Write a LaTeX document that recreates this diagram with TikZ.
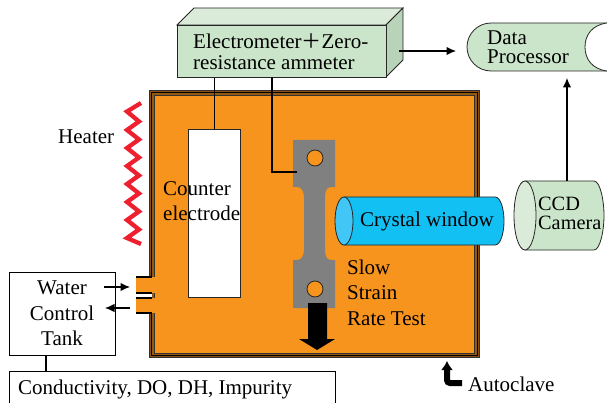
\documentclass[tikz,border=0pt]{standalone}
\usepackage{fontspec}
\setmainfont{Liberation Serif}
\newfontfamily\cjk{Noto Sans CJK SC}
\usetikzlibrary{arrows.meta,positioning,calc}
\definecolor{vesselorange}{HTML}{F7941D}
\definecolor{vesselbrown}{HTML}{8A4E12}
\definecolor{boxgreen}{HTML}{CBE5CA}
\definecolor{boxlight}{HTML}{DAEBD9}
\definecolor{boxside}{HTML}{B9D3B9}
\definecolor{windowblue}{HTML}{13C0F3}
\definecolor{windowlight}{HTML}{42C6F6}
\definecolor{heaterred}{HTML}{EE2030}
\definecolor{specgray}{HTML}{808080}
\tikzset{
    lab/.style={font=\fontsize{21}{#1}\selectfont,inner sep=0pt,align=left,anchor=west},
    lab/.default=20,
    flow/.style={-{Latex[length=9.5pt,width=8.5pt]},line width=1.2pt},
    wire/.style={line width=1.1pt},
    outline/.style={draw=black!85,line width=0.8pt}
}
\begin{document}
\begin{tikzpicture}[x=1pt,y=-1pt]
    \useasboundingbox (0,0) rectangle (607,403);
    % autoclave
    \fill[vesselorange] (149,90) rectangle (480,358);
    \draw[black!80,line width=0.8pt,fill=vesselbrown] (149.5,90.5) rectangle (479.5,357.5);
    \draw[black,line width=0.7pt,fill=vesselorange!60!black] (151.5,92.5) rectangle (477,355.5);
    \draw[black!80,line width=0.5pt,fill=vesselorange] (154,95.5) rectangle (474.5,353);
    % ports
    \fill[white] (136,293) rectangle (152,298);
    \fill[vesselorange] (136,277) rectangle (155,293);
    \fill[vesselorange] (136,298) rectangle (155,313);
    \foreach \y in {277,293,298,313}
        \draw[line width=1.3pt] (136,\y) -- (152,\y);
    % heater
    \draw[heaterred,line width=4.3pt] (141,103) -- (127,111.5)
        \foreach \i in {0,...,6} { -- ({139},{121.5+\i*18}) -- ({127},{130+\i*18}) } -- (141,244);
    \node[lab] (heater) at (58,137) {Heater};
    % electrometer
    \draw[outline,fill=boxlight] (177,25) -- (194,8) -- (403,8) -- (386,25) -- cycle;
    \draw[outline,fill=boxside] (386,25) -- (403,8) -- (403,60) -- (386,77) -- cycle;
    \node[outline,fill=boxgreen,minimum width=209pt,minimum height=52pt,inner sep=0pt,anchor=north west] (meter) at (177,25) {};
    \node[lab=21] (metertext) at (193,51.5) {Electrometer{\cjk\fontsize{20}{21}\selectfont ＋}Zero-\\resistance ammeter};
    % counter electrode
    \node[outline,fill=white,minimum width=52pt,minimum height=168pt,inner sep=0pt,anchor=north west] (counter) at (188,129) {};
    \node[lab=25] (countertext) at (163,201.5) {Counter\\electrode};
    % specimen
    \fill[specgray] (293,140) -- (335,140) -- (335,187) -- (331,187) .. controls (326,187) and (325,192) .. (325,198) -- (325,249) .. controls (325,255) and (326,260) .. (331,260) -- (335,260) -- (335,308) -- (293,308) -- (293,260) -- (297,260) .. controls (302,260) and (304,255) .. (304,249) -- (304,198) .. controls (304,192) and (302,187) .. (297,187) -- (293,187) -- cycle;
    \node[draw=black!85,line width=0.8pt,fill=vesselorange,circle,minimum size=16pt,inner sep=0pt] (holetop) at (315,158) {};
    \node[draw=black!85,line width=0.8pt,fill=vesselorange,circle,minimum size=16pt,inner sep=0pt] (holebottom) at (315,289) {};
    \coordinate (specgrip) at (297,172);
    \fill[black] (308,303) -- (327,303) -- (327,339) -- (335,339) -- (317,350) -- (299,339) -- (308,339) -- cycle;
    \node[lab=25.5] (ssrt) at (347,292.5) {Slow\\Strain\\Rate Test};
    % crystal window
    \draw[outline,fill=windowblue] (344,197) -- (495,197) .. controls (501,197) and (504,210) .. (504,221) .. controls (504,232) and (501,245) .. (495,245) -- (344,245) -- cycle;
    \draw[outline,fill=windowlight] (344,221) ellipse (9 and 24);
    \node[lab] (window) at (360,221) {Crystal window};
    % ccd camera
    \draw[outline,fill=boxgreen] (525,181) -- (594,181) .. controls (600,181) and (604,200) .. (604,215.5) .. controls (604,231) and (600,250) .. (594,250) -- (525,250) -- cycle;
    \draw[outline,fill=boxlight] (525,215.5) ellipse (11 and 34.5);
    \node[lab,font=\fontsize{20.3}{19}\selectfont] (ccd) at (538,213.5) {CCD\\Camera};
    \coordinate (ccdtop) at (567,181);
    % data processor
    \draw[outline,fill=boxgreen] (607,23) -- (491,23) arc[start angle=270,end angle=90,radius=24] -- (607,71);
    \draw[outline,fill=white] (607,23) .. controls (592,25) and (585,35) .. (585,47) .. controls (585,59) and (592,69) .. (607,71);
    \node[lab=19] (processor) at (487,47.5) {Data\\Processor};
    \coordinate (procbottom) at (567,78);
    \coordinate (procleft) at (456,51);
    \coordinate (meterright) at (399,51);
    \draw[flow] (meterright) -- (procleft);
    \draw[flow] (ccdtop) -- (procbottom);
    % wires from meter
    \draw[wire] (meter.south -| counter.north) -- (counter.north);
    \draw[wire] (272,77) |- (specgrip);
    % water tank
    \node[draw,line width=1pt,fill=white,minimum width=106pt,minimum height=83pt,inner sep=0pt,anchor=north west] (tank) at (9,272) {};
    \node[font=\fontsize{21}{25.5}\selectfont,align=center,inner sep=0pt] (tanktext) at (62,313.5) {Water\\Control\\Tank};
    \coordinate (portin) at (130,287);
    \coordinate (portout) at (105,308);
    \draw[flow] (104,287) -- (portin);
    \draw[flow] (130,308) -- (portout);
    % conductivity box
    \coordinate (sensortop) at (46,371);
    \draw[line width=1pt] (9,403) |- (335,371) -- (335,403);
    \draw[wire] (tank.south -| sensortop) -- (sensortop);
    \node[lab] (sensor) at (18,389) {Conductivity, DO, DH, Impurity};
    % autoclave pointer
    \coordinate (pointertip) at (447,361);
    \draw[-{Latex[length=9pt,width=12pt]},line width=6pt,rounded corners=3pt] (462,383) -| (pointertip);
    \node[lab] (autoclave) at (468,384) {Autoclave};
\end{tikzpicture}
\end{document}
